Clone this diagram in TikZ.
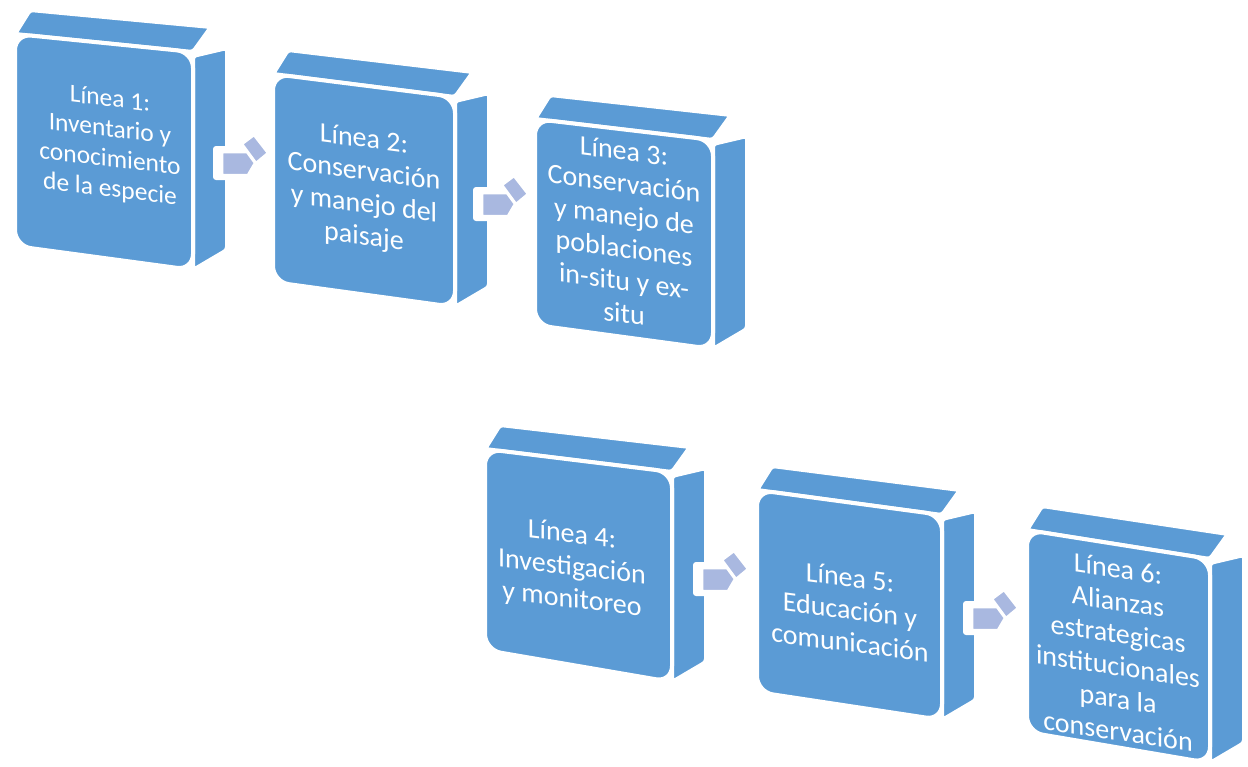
\documentclass[tikz,border=0pt]{standalone}
\usepackage{fontspec}
\setmainfont{Carlito}
\definecolor{boxblue}{HTML}{5B9BD5}
\definecolor{arrowblue}{HTML}{A9B8E0}
\tikzset{
  cubeface/.style={fill=boxblue, draw=white, line width=4pt, line join=round, rounded corners=3pt},
  cubefront/.style={fill=boxblue, draw=white, line width=4pt, rounded corners=16pt},
  boxtext/.style={text=white, font=\fontsize{28}{32.5}\selectfont, align=center, inner sep=0pt},
  arrpart/.style={fill=arrowblue, draw=white, line width=2.5pt, line join=round},
  flowarrow/.pic={
    \fill[white, rounded corners=3pt] (-9,-6) -- (18,-6) -- (32,-20) -- (50,1) -- (36,15) -- (30,28) -- (-9,28) -- cycle;
    \draw[arrpart] (20,-8) -- (32,-17) -- (46,1) -- (34,11) -- cycle;
    \draw[arrpart] (0,0) -- (25,0) -- (33,11) -- (26,23) -- (0,23) -- cycle;
  }
}
% #1 xL, #2 xR, #3 yTL, #4 yTR, #5 yBR, #6 yBL
\newcommand\cubebox[6]{%
  \draw[cubeface] (#1,#3) -- (#2,#4) -- ({#2+18},{#4-25}) -- ({#1+15},{#3-24}) -- cycle;
  \draw[cubeface] (#2,{#4+4}) -- (#2,#5) -- ({#2+34},{#5-20}) -- ({#2+34},{#4-4}) -- cycle;
  \draw[cubefront] (#1,#3) -- (#2,#4) -- (#2,#5) -- (#1,#6) -- cycle;
}
\begin{document}
\begin{tikzpicture}[x=1pt,y=-1pt]
\useasboundingbox[fill=white] (0,0) rectangle (1248,766);

\cubebox{15}{193}{34}{52}{270}{246}
\cubebox{273}{455}{74}{97}{307}{282}
\cubebox{535}{713}{119}{140}{349}{325}
\cubebox{485}{672}{449}{472}{682}{650}
\cubebox{757}{942}{490}{515}{720}{692}
\cubebox{1027}{1210}{530}{559}{763}{732}

\node[boxtext, font=\fontsize{25.5}{30}\selectfont, yslant=-0.12] (b1) at (110,145) {Línea 1:\\Inventario y\\conocimiento\\de la especie};
\node[boxtext, yslant=-0.13] (b2) at (364,189) {Línea 2:\\Conservación\\y manejo del\\paisaje};
\node[boxtext, yslant=-0.13] (b3) at (624,232) {Línea 3:\\Conservación\\y manejo de\\poblaciones\\in-situ y ex-\\situ};
\node[boxtext, yslant=-0.12] (b4) at (572,568) {Línea 4:\\Investigación\\y monitoreo};
\node[boxtext, yslant=-0.13] (b5) at (850,610) {Línea 5:\\Educación y\\comunicación};
\node[boxtext, yslant=-0.15] (b6) at (1118,650) {Línea 6:\\Alianzas\\estrategicas\\institucionales\\para la\\conservación};

\pic (a1) at (222,152) {flowarrow};
\pic (a2) at (482,193) {flowarrow};
\pic (a3) at (702,568) {flowarrow};
\pic (a4) at (972,607) {flowarrow};
\end{tikzpicture}
\end{document}
